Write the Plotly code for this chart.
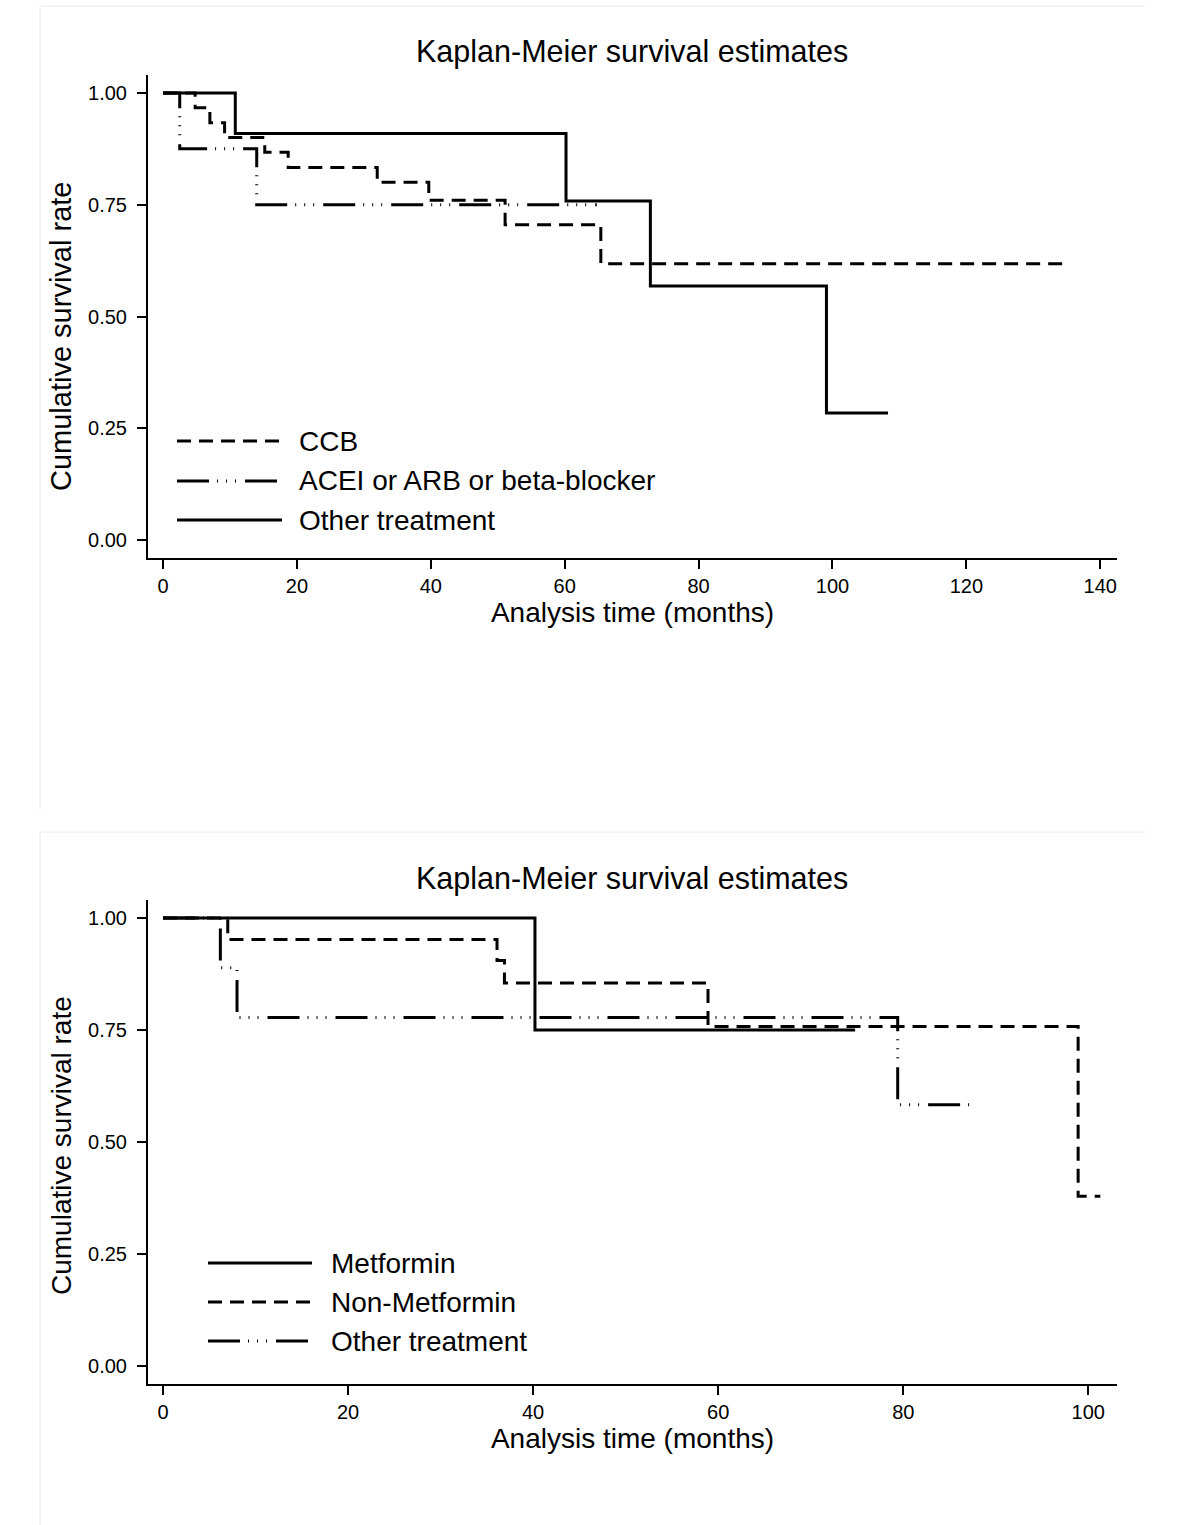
import plotly.graph_objects as go

# ---------------- data ----------------
# Top panel (antihypertensive treatment)
ccb_t = [0, 4.8, 7.0, 9.2, 15.2, 18.7, 32.0, 39.7, 51.1, 65.4, 135.0]
ccb_s = [1.0, 0.967, 0.933, 0.900, 0.867, 0.833, 0.800, 0.760, 0.705, 0.618, 0.618]
acei_t = [0, 2.5, 14.0, 64.8]
acei_s = [1.0, 0.875, 0.750, 0.750]
oth1_t = [0, 10.8, 60.2, 72.8, 99.1, 108.3]
oth1_s = [1.0, 0.909, 0.758, 0.568, 0.284, 0.284]

# Bottom panel (antidiabetic treatment)
met_t = [0, 40.2, 74.8]
met_s = [1.0, 0.750, 0.750]
nonmet_t = [0, 7.0, 36.1, 36.9, 58.9, 98.9, 101.3]
nonmet_s = [1.0, 0.952, 0.905, 0.855, 0.758, 0.379, 0.379]
oth2_t = [0, 6.2, 8.0, 79.4, 87.3]
oth2_s = [1.0, 0.889, 0.778, 0.583, 0.583]

title_text = "Kaplan-Meier survival estimates"
x_title = "Analysis time (months)"
y_title = "Cumulative survival rate"
top_labels = ["CCB", "ACEI or ARB or beta-blocker", "Other treatment"]
bot_labels = ["Metformin", "Non-Metformin", "Other treatment"]
y_ticks = [0, 0.25, 0.5, 0.75, 1.0]
x_ticks_top = [0, 20, 40, 60, 80, 100, 120, 140]
x_ticks_bot = [0, 20, 40, 60, 80, 100]

# ---------------- styles ----------------
W, H = 1200, 1525
FONT = "Liberation Sans, Arial, Helvetica, sans-serif"
DASH = "14px,8px"
DASHDOT = "32px,8px,1px,8px,1px,8px,1px,9px"
SOLID = "solid"
LW = 3


def px(x):
    return x / W


def py(y):
    return 1 - y / H


fig = go.Figure()


def add_curve(t, s, dash, xa, ya, name):
    fig.add_trace(go.Scatter(
        x=t, y=s, mode="lines", line=dict(color="black", width=LW, dash=dash, shape="hv"),
        xaxis=xa, yaxis=ya, name=name, showlegend=False, hoverinfo="x+y"))


add_curve(oth1_t, oth1_s, SOLID, "x", "y", top_labels[2])
add_curve(acei_t, acei_s, DASHDOT, "x", "y", top_labels[1])
add_curve(ccb_t, ccb_s, DASH, "x", "y", top_labels[0])

add_curve(met_t, met_s, SOLID, "x2", "y2", bot_labels[0])
add_curve(oth2_t, oth2_s, DASHDOT, "x2", "y2", bot_labels[2])
add_curve(nonmet_t, nonmet_s, DASH, "x2", "y2", bot_labels[1])

axis_common = dict(
    showline=True, linecolor="black", linewidth=2, ticks="outside", ticklen=9,
    tickwidth=2, tickcolor="black", showgrid=False, zeroline=False,
    tickfont=dict(size=20, color="black", family=FONT),
)

fig.update_layout(
    width=W, height=H, paper_bgcolor="white", plot_bgcolor="white",
    margin=dict(l=0, r=0, t=0, b=0),
    font=dict(family=FONT, color="black"),
    xaxis=dict(domain=[px(148), px(1117)], range=[-2.24, 142.5], tickvals=x_ticks_top,
               anchor="y", title=dict(text=x_title, font=dict(size=28), standoff=4), **axis_common),
    yaxis=dict(domain=[py(558), py(75)], range=[-0.04, 1.04], tickvals=y_ticks, tickformat=".2f",
               anchor="x", ticklabelstandoff=6, **axis_common),
    xaxis2=dict(domain=[px(148), px(1117)], range=[-1.62, 103.1], tickvals=x_ticks_bot,
                anchor="y2", title=dict(text=x_title, font=dict(size=28), standoff=4), **axis_common),
    yaxis2=dict(domain=[py(1384), py(900)], range=[-0.04, 1.04], tickvals=y_ticks, tickformat=".2f",
                anchor="x2", ticklabelstandoff=6, **axis_common),
    showlegend=False,
)

# titles
for ty in (52, 878):
    fig.add_annotation(text=title_text, x=px(632), y=py(ty), xref="paper", yref="paper",
                       showarrow=False, xanchor="center", yanchor="middle",
                       font=dict(size=30.5, color="black", family=FONT))

# y-axis titles
for ty, fs in ((337, 29), (1146, 28)):
    fig.add_annotation(text=y_title, x=px(61), y=py(ty), xref="paper", yref="paper",
                       showarrow=False, xanchor="center", yanchor="middle", textangle=-90,
                       font=dict(size=fs, color="black", family=FONT))

# manual legends (long line samples as in the original)
def add_legend(labels, dashes, rows, x0, x1, xt):
    for lab, d, ry in zip(labels, dashes, rows):
        fig.add_shape(type="line", xref="paper", yref="paper", x0=px(x0), x1=px(x1),
                      y0=py(ry), y1=py(ry), line=dict(color="black", width=LW, dash=d))
        fig.add_annotation(text=lab, x=px(xt), y=py(ry), xref="paper", yref="paper",
                           showarrow=False, xanchor="left", yanchor="middle",
                           font=dict(size=28, color="black", family=FONT))


add_legend(top_labels, [DASH, DASHDOT, SOLID], [441, 481, 520], 177, 282, 297)
add_legend(bot_labels, [SOLID, DASH, DASHDOT], [1263, 1302, 1341], 208, 312, 329)

# faint panel frames
frame_col = "#e3eaea"
for top, bottom in ((6, 810), (832, 1525)):
    fig.add_shape(type="line", xref="paper", yref="paper", x0=px(40), x1=px(1145),
                  y0=py(top), y1=py(top), line=dict(color=frame_col, width=1))
    fig.add_shape(type="line", xref="paper", yref="paper", x0=px(40), x1=px(40),
                  y0=py(top), y1=py(bottom), line=dict(color=frame_col, width=1))

fig.write_html("out.html", config={"displayModeBar": False},
               post_script="document.body.style.margin='0';")
